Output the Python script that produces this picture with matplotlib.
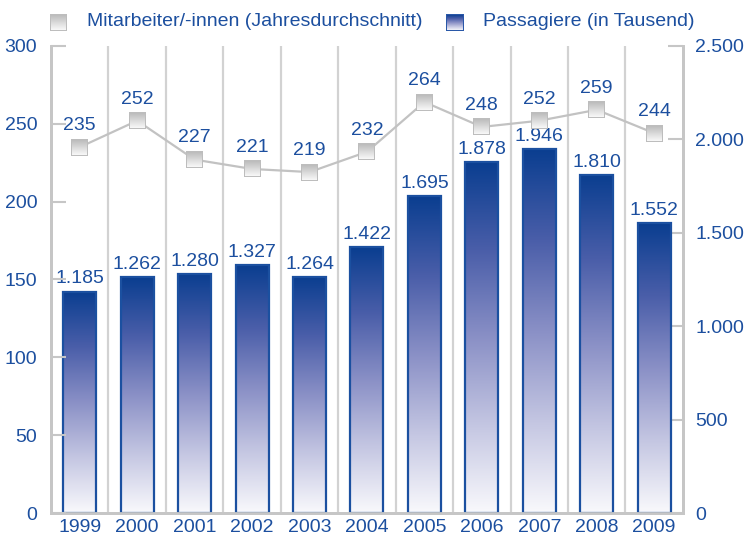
import numpy as np
import matplotlib.pyplot as plt
from matplotlib.colors import LinearSegmentedColormap, to_rgb
from matplotlib.offsetbox import OffsetImage, AnnotationBbox

plt.rcParams['font.family'] = ['Liberation Sans', 'DejaVu Sans']

# data
years = ["1999", "2000", "2001", "2002", "2003", "2004", "2005", "2006", "2007", "2008", "2009"]
passengers = [1185, 1262, 1280, 1327, 1264, 1422, 1695, 1878, 1946, 1810, 1552]
staff = [235, 252, 227, 221, 219, 232, 264, 248, 252, 259, 244]
staff_ticks = [0, 50, 100, 150, 200, 250, 300]
pass_ticks = [0, 500, 1000, 1500, 2000, 2500]

BLUE_TXT = "#1c4f9f"
GRID = "#d2d2d2"
SPINE = "#c6c6c6"
FS = 14


def de_fmt(v):
    return f"{v:,}".replace(",", ".")


bar_cmap = LinearSegmentedColormap.from_list(
    "bars", ["#f9f9fc", "#c4c6e2", "#8a90c6", "#4a5ea9", "#0a3e90"])
grad = np.linspace(0, 1, 256).reshape(-1, 1)

fig = plt.figure(figsize=(7.46, 5.39), dpi=100)
ax = fig.add_axes([0.0684, 0.0482, 0.847, 0.8665])   # bars, right scale
ax2 = ax.twinx()                                      # line, left scale

x = np.arange(len(years))
w = 0.575

# vertical separators
for b in np.arange(0.5, len(years) - 0.5, 1):
    ax.axvline(b, color=GRID, lw=1.6, zorder=0)

# gradient bars
bars = ax.bar(x, passengers, width=w, facecolor="none", edgecolor="#1b50a0", lw=1.6, zorder=3)
for r in bars:
    x0, y0 = r.get_x(), r.get_y()
    ax.imshow(grad, cmap=bar_cmap, origin="lower", aspect="auto",
              extent=[x0, x0 + r.get_width(), y0, y0 + r.get_height()], zorder=2)
for xi, v in zip(x, passengers):
    ax.annotate(de_fmt(v), (xi, v), xytext=(0, 3), textcoords="offset points",
                ha="center", va="bottom", fontsize=FS, color=BLUE_TXT, zorder=4)

ax.set_xlim(-0.5, len(years) - 0.5)
ax.set_ylim(0, 2500)
ax.yaxis.tick_right()
ax.set_yticks(pass_ticks)
ax.set_yticklabels([de_fmt(t) for t in pass_ticks])
ax.set_xticks(x)
ax.set_xticklabels(years)

# line with gradient square markers
ax2.plot(x, staff, color="#c2c2c2", lw=1.6, zorder=2)
n = 17
mk = np.ones((n, n, 3))
top, bot = np.array(to_rgb("#b9b9b9")), np.array(to_rgb("#fbfbfb"))
for i in range(n):
    mk[i, :, :] = top + (bot - top) * i / (n - 1)
mk[0, :, :] = mk[-1, :, :] = mk[:, 0, :] = mk[:, -1, :] = to_rgb("#bdbdbd")
for xi, v in zip(x, staff):
    ab = AnnotationBbox(OffsetImage(mk, zoom=1, dpi_cor=False), (xi, v), frameon=False, zorder=3)
    ax2.add_artist(ab)
    ax2.annotate(str(v), (xi, v), xytext=(0, 9.5), textcoords="offset points",
                 ha="center", va="bottom", fontsize=FS, color=BLUE_TXT, zorder=4)
ax2.set_ylim(0, 300)
ax2.yaxis.tick_left()
ax2.set_yticks(staff_ticks)

for a in (ax, ax2):
    for s in a.spines.values():
        s.set_color(SPINE)
        s.set_linewidth(2)
    a.spines["top"].set_visible(False)
    a.tick_params(axis="y", direction="in", length=11, width=1.5, color=SPINE,
                  labelcolor=BLUE_TXT, labelsize=FS, pad=9)
ax.tick_params(axis="x", length=0, labelcolor=BLUE_TXT, labelsize=FS, pad=4)
ax2.tick_params(axis="y", pad=10)

# legend
def legend_icon(x0, img):
    ia = fig.add_axes([x0 / 746, 1 - 31 / 539, 17 / 746, 17 / 539])
    ia.imshow(img, aspect="auto")
    ia.set_xticks([])
    ia.set_yticks([])
    for s in ia.spines.values():
        s.set_visible(False)

legend_icon(50, mk)
bl = np.ones((n, n, 3))
for i in range(n):
    bl[i, :, :] = bar_cmap(1 - i / (n - 1))[:3]
bl[0, :, :] = bl[-1, :, :] = bl[:, 0, :] = bl[:, -1, :] = to_rgb("#2a58a8")
legend_icon(446, bl)
fig.text(87 / 746, 1 - 22 / 539, "Mitarbeiter/-innen (Jahresdurchschnitt)", fontsize=FS,
         color=BLUE_TXT, va="center", ha="left")
fig.text(483 / 746, 1 - 22 / 539, "Passagiere (in Tausend)", fontsize=FS,
         color=BLUE_TXT, va="center", ha="left")

fig.savefig("out.png", dpi=100)
